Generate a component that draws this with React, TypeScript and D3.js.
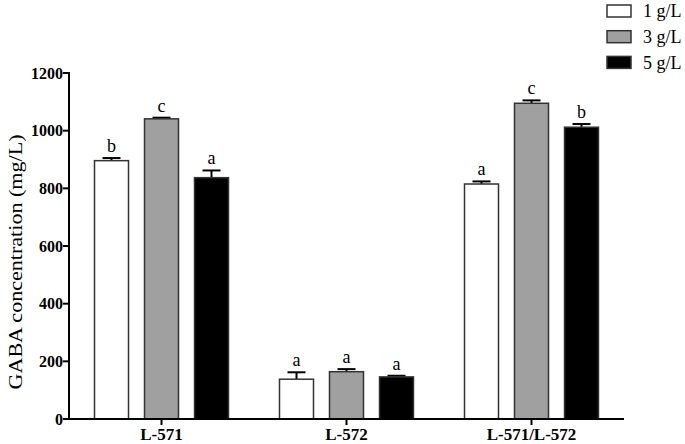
import React from "react";
import * as d3 from "d3";

const categories = ["L-571", "L-572", "L-571/L-572"];
const seriesNames = ["1 g/L", "3 g/L", "5 g/L"];
const seriesColors = ["#ffffff", "#a0a0a0", "#000000"];
const means1 = [896, 138, 815];
const means3 = [1041, 164, 1095];
const means5 = [837, 146, 1012];
const errs1 = [9, 24, 9];
const errs3 = [4, 9, 10];
const errs5 = [25, 4, 11];
const letters1 = ["b", "a", "a"];
const letters3 = ["c", "a", "c"];
const letters5 = ["a", "a", "b"];
const yTicks = [0, 200, 400, 600, 800, 1000, 1200];

const W = 685;
const H = 444;
const margin = { left: 69, right: 61, top: 73, bottom: 25 };

export default function App() {
  const x0 = d3
    .scaleBand<string>()
    .domain(categories)
    .range([margin.left, W - margin.right])
    .padding(0);
  const x1 = d3
    .scaleBand<string>()
    .domain(seriesNames)
    .range([-67, 67])
    .paddingInner(0.32)
    .paddingOuter(0);
  const y = d3.scaleLinear().domain([0, 1200]).range([H - margin.bottom, margin.top]);

  const means = [means1, means3, means5];
  const errs = [errs1, errs3, errs5];
  const letters = [letters1, letters3, letters5];
  const bw = x1.bandwidth();
  const serif = "'Liberation Serif', 'Times New Roman', serif";

  return (
    <svg
      width={W}
      height={H}
      style={{ position: "fixed", left: 0, top: 0, background: "#fff" }}
      fontFamily={serif}
    >
      {/* bars */}
      {categories.map((c, ci) => {
        const cx = (x0(c) as number) + x0.bandwidth() / 2;
        return seriesNames.map((s, si) => {
          const bx = cx + (x1(s) as number);
          const v = means[si][ci];
          const e = errs[si][ci];
          const mid = bx + bw / 2;
          return (
            <g key={c + s}>
              <line x1={mid} x2={mid} y1={y(v)} y2={y(v + e)} stroke="#000" strokeWidth={2} />
              <line x1={mid - 9} x2={mid + 9} y1={y(v + e)} y2={y(v + e)} stroke="#000" strokeWidth={2} />
              <rect
                x={bx}
                y={y(v)}
                width={bw}
                height={y(0) - y(v)}
                fill={seriesColors[si]}
                stroke="#333"
                strokeWidth={1.5}
              />
              <text x={mid} y={y(v + e) - 6} textAnchor="middle" fontSize={18}>
                {letters[si][ci]}
              </text>
            </g>
          );
        });
      })}
      {/* y axis */}
      <line x1={margin.left} x2={margin.left} y1={y(1200) - 1} y2={y(0) + 1} stroke="#000" strokeWidth={2} />
      {yTicks.map((t) => (
        <g key={t}>
          <line x1={margin.left - 6} x2={margin.left} y1={y(t)} y2={y(t)} stroke="#000" strokeWidth={2} />
          <text x={margin.left - 6} y={y(t)} dy="0.35em" textAnchor="end" fontSize={16} fontWeight="bold">
            {t}
          </text>
        </g>
      ))}
      {/* x axis */}
      <line x1={margin.left - 1} x2={W - margin.right} y1={y(0)} y2={y(0)} stroke="#000" strokeWidth={2} />
      {categories.map((c) => {
        const cx = (x0(c) as number) + x0.bandwidth() / 2;
        return (
          <g key={c}>
            <line x1={cx} x2={cx} y1={y(0)} y2={y(0) + 6} stroke="#000" strokeWidth={2} />
            <text x={cx} y={y(0) + 21} textAnchor="middle" fontSize={17} fontWeight="bold">
              {c}
            </text>
          </g>
        );
      })}
      {/* y title */}
      <text
        transform={`translate(22, 262) rotate(-90)`}
        textAnchor="middle"
        fontSize={19}
        textLength={255}
        lengthAdjust="spacingAndGlyphs"
      >
        GABA concentration (mg/L)
      </text>
      {/* legend */}
      {seriesNames.map((s, i) => (
        <g key={s} transform={`translate(607, ${5 + i * 25.7})`}>
          <rect x={0} y={0} width={24} height={12} fill={seriesColors[i]} stroke="#333" strokeWidth={1.5} />
          <text x={36} y={6} dy="0.35em" fontSize={18}>
            {s}
          </text>
        </g>
      ))}
    </svg>
  );
}
